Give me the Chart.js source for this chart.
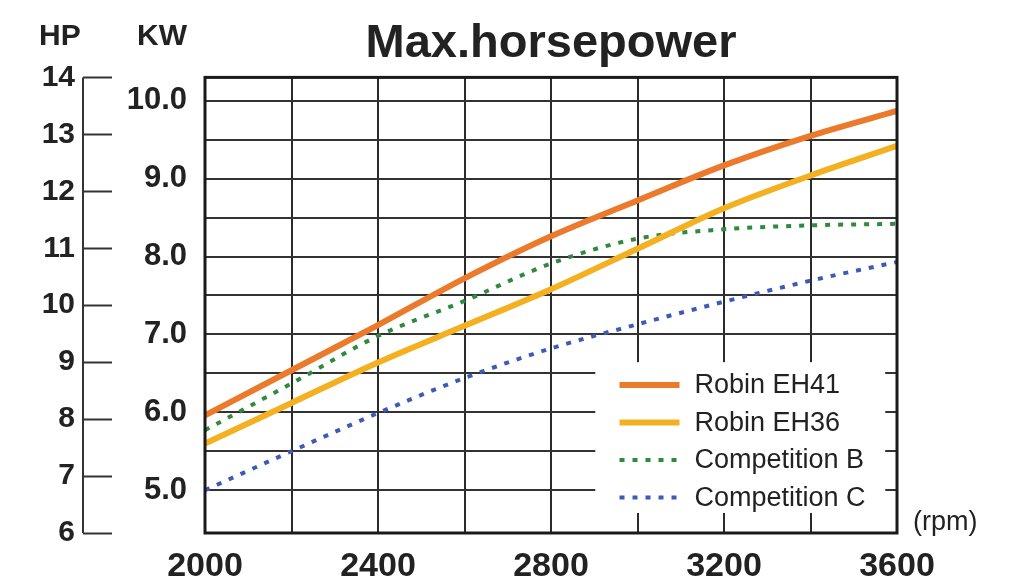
<!DOCTYPE html>
<html><head><meta charset="utf-8">
<script src="https://cdn.jsdelivr.net/npm/chart.js@4.4.1/dist/chart.umd.min.js"></script>
<style>html,body{margin:0;padding:0;background:#fff;}</style>
</head><body>
<canvas id="c" width="1011" height="586"></canvas>
<script>
// ---- data (kW) ----
const rpm = [2000, 2200, 2400, 2600, 2800, 3000, 3200, 3400, 3600];
const robinEH41 = [5.96, 6.54, 7.12, 7.72, 8.26, 8.72, 9.17, 9.55, 9.87];
const robinEH36 = [5.60, 6.12, 6.64, 7.11, 7.58, 8.10, 8.62, 9.04, 9.42];
const competitionB = [5.77, 6.37, 6.98, 7.43, 7.91, 8.23, 8.35, 8.40, 8.42];
const competitionC = [5.00, 5.50, 5.99, 6.44, 6.82, 7.13, 7.42, 7.69, 7.93];
const seriesNames = ['Robin EH41', 'Robin EH36', 'Competition B', 'Competition C'];
const rpmGridTicks = [2000, 2200, 2400, 2600, 2800, 3000, 3200, 3400, 3600];
const rpmLabelTicks = [2000, 2400, 2800, 3200, 3600];
const kwGridTicks = [5, 5.5, 6, 6.5, 7, 7.5, 8, 8.5, 9, 9.5, 10];
const kwLabelTicks = [5, 6, 7, 8, 9, 10];
const hpTicks = [6, 7, 8, 9, 10, 11, 12, 13, 14];
const titleText = 'Max.horsepower';

const FONT = "'Liberation Sans', Arial, Helvetica, sans-serif";
const pts = arr => rpm.map((x, i) => ({x: x, y: arr[i]}));

const extras = {
  id: 'extras',
  afterDatasetsDraw(chart) {
    const ctx = chart.ctx, a = chart.chartArea;
    // legend box (white, hides grid)
    const bx = a.left + 0.564 * a.width, bx2 = a.left + 0.983 * a.width;
    const by = a.top + 0.625 * a.height, by2 = a.top + 0.956 * a.height;
    ctx.save();
    ctx.fillStyle = '#ffffff';
    ctx.fillRect(bx, by, bx2 - bx, by2 - by);
    chart.data.datasets.forEach((ds, i) => {
      const y = a.top + 0.675 * a.height + i * 37.5;
      const x0 = a.left + 0.599 * a.width;
      ctx.beginPath();
      ctx.strokeStyle = ds.borderColor;
      ctx.lineWidth = ds.borderWidth;
      ctx.setLineDash(ds.borderDash || []);
      ctx.moveTo(x0, y);
      ctx.lineTo(x0 + 60, y);
      ctx.stroke();
      ctx.setLineDash([]);
      ctx.fillStyle = '#222';
      ctx.font = '27px ' + FONT;
      ctx.textAlign = 'left';
      ctx.textBaseline = 'middle';
      ctx.fillText(ds.label, x0 + 75, y + 1);
    });
    ctx.restore();
  },
  afterDraw(chart) {
    const ctx = chart.ctx, a = chart.chartArea;
    ctx.save();
    // plot frame
    ctx.strokeStyle = '#1a1a1a';
    ctx.lineWidth = 3;
    ctx.strokeRect(a.left, a.top, a.width, a.height);
    // HP axis line
    const hp = chart.scales.hp;
    const lx = hp.right - 29;
    ctx.strokeStyle = '#333';
    ctx.lineWidth = 2;
    ctx.beginPath();
    ctx.moveTo(lx, hp.getPixelForValue(14));
    ctx.lineTo(lx, hp.getPixelForValue(6));
    ctx.stroke();
    // unit labels
    ctx.fillStyle = '#222';
    ctx.font = 'bold 30px ' + FONT;
    ctx.textAlign = 'left';
    ctx.textBaseline = 'alphabetic';
    ctx.fillText('HP', 39, 45);
    ctx.fillText('KW', 137, 45);
    ctx.font = '27px ' + FONT;
    ctx.textBaseline = 'middle';
    ctx.fillText('(rpm)', a.right + 16, a.bottom - 10);
    ctx.restore();
  }
};

const common = {pointRadius: 0, cubicInterpolationMode: 'monotone', xAxisID: 'x', yAxisID: 'kw'};

new Chart(document.getElementById('c'), {
  type: 'line',
  data: {
    datasets: [
      Object.assign({label: seriesNames[0], data: pts(robinEH41), borderColor: '#EC7A2C', borderWidth: 6}, common),
      Object.assign({label: seriesNames[1], data: pts(robinEH36), borderColor: '#F3B121', borderWidth: 6}, common),
      Object.assign({label: seriesNames[2], data: pts(competitionB), borderColor: '#2F8A3C', borderWidth: 4, borderDash: [5, 8]}, common),
      Object.assign({label: seriesNames[3], data: pts(competitionC), borderColor: '#3B5BB5', borderWidth: 4, borderDash: [5, 8]}, common)
    ]
  },
  options: {
    responsive: false,
    animation: false,
    layout: {padding: {left: 0, right: 114, top: 0, bottom: 0}},
    plugins: {
      legend: {display: false},
      tooltip: {enabled: false},
      title: {
        display: true, text: titleText, fullSize: false, color: '#222',
        font: {family: FONT, size: 47, weight: 'bold'},
        padding: {top: 16, bottom: 5}
      }
    },
    scales: {
      x: {
        type: 'linear', min: 2000, max: 3600,
        afterBuildTicks: s => { s.ticks = rpmGridTicks.map(v => ({value: v})); },
        afterFit: s => { s.height = 53; },
        grid: {color: '#2a2a2a', lineWidth: 2, drawTicks: false},
        border: {display: false},
        ticks: {
          autoSkip: false, maxRotation: 0, padding: 13, color: '#222',
          font: {family: FONT, size: 34, weight: 'bold'},
          callback: v => rpmLabelTicks.includes(v) ? String(v) : ''
        }
      },
      kw: {
        type: 'linear', position: 'left', weight: 0, min: 4.45, max: 10.3,
        afterBuildTicks: s => { s.ticks = kwGridTicks.map(v => ({value: v})); },
        afterFit: s => { s.width = 93; },
        grid: {color: '#333', lineWidth: 2, drawTicks: false},
        border: {display: false},
        ticks: {
          padding: 18, color: '#222',
          font: {family: FONT, size: 31, weight: 'bold'},
          callback: v => kwLabelTicks.includes(v) ? v.toFixed(1) : ''
        }
      },
      hp: {
        type: 'linear', position: 'left', weight: 1, min: 6, max: 14,
        afterBuildTicks: s => { s.ticks = hpTicks.map(v => ({value: v})); },
        afterFit: s => { s.width = 112; },
        grid: {drawOnChartArea: false, drawTicks: true, tickLength: 29, tickColor: '#333', tickWidth: 2},
        border: {display: false},
        ticks: {
          padding: 8, color: '#222',
          font: {family: FONT, size: 30, weight: 'bold'}
        }
      }
    }
  },
  plugins: [extras]
});
</script>
</body></html>
